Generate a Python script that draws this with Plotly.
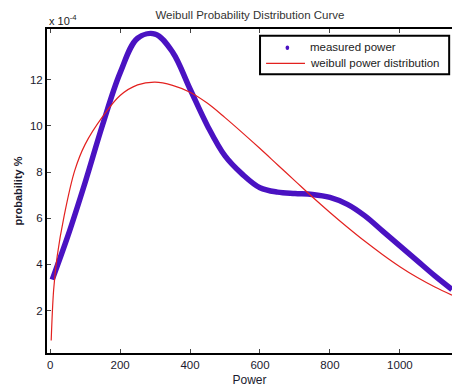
import plotly.graph_objects as go

# Data (y in units of 1e-4)
measured_x = [6, 50, 100, 150, 200, 250, 300, 350, 400, 450, 500, 550, 600, 650, 700, 750, 800, 850, 900, 950, 1000, 1050, 1100, 1149]
measured_y = [3.34, 5.2, 7.55, 10.05, 12.3, 13.8, 13.98, 13.2, 11.6, 10.0, 8.7, 7.9, 7.32, 7.13, 7.07, 7.03, 6.9, 6.6, 6.1, 5.45, 4.8, 4.15, 3.5, 2.91]

weibull_x = [3, 10, 20, 40, 70, 100, 150, 200, 250, 300, 350, 400, 450, 500, 550, 600, 650, 700, 750, 800, 850, 900, 950, 1000, 1050, 1100, 1149]
weibull_y = [0.7, 2.9, 4.34, 6.1, 8.05, 9.2, 10.4, 11.32, 11.78, 11.9, 11.76, 11.46, 10.98, 10.36, 9.70, 9.02, 8.32, 7.62, 6.92, 6.25, 5.61, 5.0, 4.43, 3.9, 3.43, 3.02, 2.67]

x_ticks = [0, 200, 400, 600, 800, 1000]
y_ticks = [2, 4, 6, 8, 10, 12]
legend_names = ["measured power", "weibull power distribution"]

BLUE = "#4a12c2"
RED = "#e3211f"
FONT = "Liberation Sans, Arial, sans-serif"

fig = go.Figure()
fig.add_trace(go.Scatter(x=measured_x, y=measured_y, mode="lines", name=legend_names[0],
                         line=dict(color=BLUE, width=5.5, shape="spline", smoothing=1.0),
                         showlegend=False, hoverinfo="skip"))
fig.add_trace(go.Scatter(x=weibull_x, y=weibull_y, mode="lines", name=legend_names[1],
                         line=dict(color=RED, width=1.2, shape="spline", smoothing=1.0),
                         showlegend=False, hoverinfo="skip"))

# Manual legend box (paper coordinates of the plot area)
shapes = [
    dict(type="rect", xref="paper", yref="paper", x0=0.526, x1=0.993, y0=0.860, y1=0.979,
         line=dict(color="black", width=2), fillcolor="white", layer="above"),
    dict(type="circle", xref="paper", yref="paper", x0=0.589, x1=0.598, y0=0.935, y1=0.949,
         line=dict(color=BLUE, width=0), fillcolor=BLUE, layer="above"),
    dict(type="line", xref="paper", yref="paper", x0=0.541, x1=0.637, y0=0.894, y1=0.894,
         line=dict(color=RED, width=1.2), layer="above"),
]
annotations = [
    dict(text="x 10<sup>-4</sup>", x=0, y=1, xref="paper", yref="paper",
         xanchor="left", yanchor="bottom", showarrow=False,
         font=dict(size=11, color="#222"), yshift=0),
    dict(text=legend_names[0], x=0.645, y=0.945, xref="paper", yref="paper",
         xanchor="left", yanchor="middle", showarrow=False, font=dict(size=11.5, color="#222")),
    dict(text=legend_names[1], x=0.645, y=0.894, xref="paper", yref="paper",
         xanchor="left", yanchor="middle", showarrow=False, font=dict(size=11.5, color="#222")),
]

fig.update_layout(
    width=452, height=387,
    margin=dict(l=47, r=0, t=29, b=29),
    paper_bgcolor="white", plot_bgcolor="white",
    font=dict(family=FONT, size=11.5, color="#1a1a2e"),
    title=dict(text="Weibull Probability Distribution Curve", x=0.553, xanchor="center",
               y=0.961, yanchor="middle", font=dict(size=11.5, color="#333")),
    showlegend=False,
    xaxis=dict(range=[-9, 1149], tickvals=x_ticks, ticks="inside", ticklen=4,
               showline=True, linecolor="black", linewidth=2, mirror="ticks",
               showgrid=False, zeroline=False, tickfont=dict(size=11.5),
               title=dict(text="Power", font=dict(size=12), standoff=8)),
    yaxis=dict(range=[0.16, 14.2], tickvals=y_ticks, ticks="inside", ticklen=4,
               showline=True, linecolor="black", linewidth=2, mirror=False,
               showgrid=False, zeroline=False, tickfont=dict(size=11.5),
               title=dict(text="<b>probability %</b>", font=dict(size=11), standoff=5)),
    shapes=shapes,
    annotations=annotations,
)

fig.write_html("out.html")
